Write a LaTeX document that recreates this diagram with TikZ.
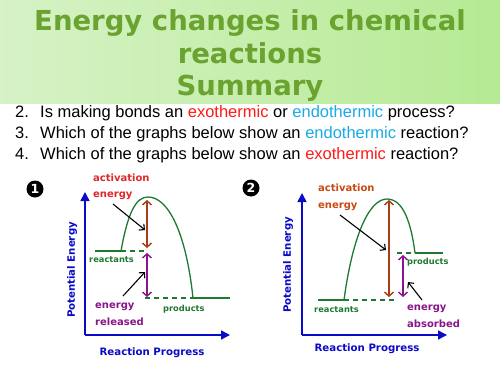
\documentclass[tikz,border=0pt]{standalone}
\usepackage{fontspec}
\setmainfont{Liberation Sans}
\newfontfamily\titlefont{DejaVu Sans}
\newfontfamily\labfont{DejaVu Sans}
\usetikzlibrary{arrows.meta}
\definecolor{titlegreen}{HTML}{6AA330}
\definecolor{bannerL}{HTML}{D6F2C6}
\definecolor{bannerR}{HTML}{B6EA94}
\definecolor{exored}{HTML}{FF1A1A}
\definecolor{endoblue}{HTML}{1AAAE8}
\definecolor{axisblue}{HTML}{0A0AC8}
\definecolor{curvegreen}{HTML}{1E7A32}
\definecolor{actred}{HTML}{E02828}
\definecolor{actbrown}{HTML}{C84A14}
\definecolor{arrbrown}{HTML}{A83C14}
\definecolor{relpurple}{HTML}{8A148A}
\tikzset{
  titletext/.style={font=\titlefont\bfseries\fontsize{27.5}{30}\selectfont, text=titlegreen, inner sep=0pt, anchor=base},
  qtext/.style={font=\fontsize{16.5}{19}\selectfont, inner sep=0pt, anchor=base west},
  lab/.style={font=\labfont\bfseries\fontsize{10}{12}\selectfont, inner sep=0pt, anchor=base west},
  smalllab/.style={font=\labfont\bfseries\fontsize{8.3}{10}\selectfont, inner sep=0pt, text=curvegreen, anchor=base west},
  axislab/.style={font=\labfont\bfseries\fontsize{10.2}{12}\selectfont, inner sep=0pt, text=axisblue},
  axis/.style={draw=axisblue, line width=1.5pt, -{Triangle[length=9pt,width=9pt]}},
  curve/.style={draw=curvegreen, line width=1.3pt},
  dashline/.style={draw=curvegreen, line width=1.3pt, dash pattern=on 5pt off 4pt},
  dbl/.style={line width=1.4pt, {Straight Barb[length=4pt,width=9pt]}-{Straight Barb[length=4pt,width=9pt]}},
  pointer/.style={draw=black, line width=1.1pt, -{Straight Barb[length=4pt,width=8pt]}},
  badge/.style={circle, fill=black, text=white, inner sep=0pt, minimum size=17pt, font=\titlefont\bfseries\fontsize{12.5}{12}\selectfont}
}
\begin{document}
\begin{tikzpicture}[x=1pt,y=-1pt]
\useasboundingbox (0,0) rectangle (500,375);
\fill[white] (0,0) rectangle (500,375);
\shade[left color=bannerL, right color=bannerR] (0,0) rectangle (500,103);
% title
\node[titletext] (t1) at (250,30) {Energy changes in chemical};
\node[titletext] (t2) at (250,63) {reactions};
\node[titletext] (t3) at (250,95) {Summary};
% questions
\node[qtext] (n2) at (15,117) {2.};
\node[qtext] (q2) at (40,117) {Is making bonds an \textcolor{exored}{exothermic} or \textcolor{endoblue}{endothermic} process?};
\node[qtext] (n3) at (15,138) {3.};
\node[qtext] (q3) at (40,138) {Which of the graphs below show an \textcolor{endoblue}{endothermic} reaction?};
\node[qtext] (n4) at (15,159) {4.};
\node[qtext] (q4) at (40,159) {Which of the graphs below show an \textcolor{exored}{exothermic} reaction?};

% ===== Graph 1 =====
\node[badge] (b1) at (35,189) {1};
\coordinate (o1) at (85,335);
\coordinate (ytop1) at (85,192);
\coordinate (xend1) at (230,335);
\draw[axis] (o1) -- (ytop1);
\draw[axis] (o1) -- (xend1);
\node[axislab, rotate=90] (pe1) at (72,270) {Potential Energy};
\node[axislab, anchor=base] (rp1) at (152,355) {Reaction Progress};
\coordinate (r1a) at (95,251);
\coordinate (r1b) at (121,251);
\coordinate (r1c) at (147,251);
\coordinate (pk1) at (148,197);
\coordinate (p1a) at (145,298);
\coordinate (p1b) at (193,298);
\coordinate (p1c) at (230,298);
\draw[curve] (r1a) -- (r1b);
\draw[dashline] (r1b) -- (r1c);
\draw[curve] (r1b) .. controls (128,212) and (136,197) .. (pk1) .. controls (168,197) and (186,232) .. (p1b);
\draw[dashline] (p1a) -- (p1b);
\draw[curve] (p1b) -- (p1c);
\node[smalllab] (re1) at (89,262) {reactants};
\node[smalllab] (pr1) at (163,311) {products};
\coordinate (a1t) at (147,200);
\coordinate (a1b) at (147,248);
\coordinate (e1t) at (147,253);
\coordinate (e1b) at (147,297);
\draw[dbl, draw=arrbrown] (a1t) -- (a1b);
\draw[dbl, draw=relpurple] (e1t) -- (e1b);
\node[lab, text=actred] (act1) at (93,181) {activation};
\node[lab, text=actred] (en1) at (93,197) {energy};
\node[lab, text=relpurple] (er1) at (95,308) {energy};
\node[lab, text=relpurple] (rel1) at (95,325) {released};
\coordinate (ps1) at (113,204);
\coordinate (pe1a) at (145,230);
\coordinate (ps2) at (123,296);
\coordinate (pe2a) at (145,272);
\draw[pointer] (ps1) -- (pe1a);
\draw[pointer] (ps2) -- (pe2a);

% ===== Graph 2 =====
\node[badge] (b2) at (251,188) {2};
\coordinate (o2) at (302,335);
\coordinate (ytop2) at (302,193);
\coordinate (xend2) at (447,335);
\draw[axis] (o2) -- (ytop2);
\draw[axis] (o2) -- (xend2);
\node[axislab, rotate=90] (pe2) at (288,265) {Potential Energy};
\node[axislab, anchor=base] (rp2) at (367,351) {Reaction Progress};
\coordinate (r2a) at (318,300);
\coordinate (r2b) at (344,300);
\coordinate (r2c) at (397,300);
\coordinate (pk2) at (387,199);
\coordinate (p2a) at (397,253);
\coordinate (p2b) at (415,253);
\coordinate (p2c) at (443,253);
\draw[curve] (r2a) -- (r2b);
\draw[dashline] (r2b) -- (r2c);
\draw[curve] (r2b) .. controls (352,240) and (368,199) .. (pk2) .. controls (403,199) and (411,222) .. (p2b);
\draw[dashline] (p2a) -- (p2b);
\draw[curve] (p2b) -- (p2c);
\node[smalllab] (re2) at (314,312) {reactants};
\node[smalllab] (pr2) at (407,264) {products};
\coordinate (a2t) at (389,200);
\coordinate (a2b) at (389,297);
\coordinate (e2t) at (403,255);
\coordinate (e2b) at (403,297);
\draw[dbl, draw=arrbrown] (a2t) -- (a2b);
\draw[dbl, draw=relpurple] (e2t) -- (e2b);
\node[lab, text=actbrown] (act2) at (318,191) {activation};
\node[lab, text=actbrown] (en2) at (318,208) {energy};
\node[lab, text=relpurple] (ea2) at (407,310) {energy};
\node[lab, text=relpurple] (ab2) at (407,327) {absorbed};
\coordinate (ps3) at (340,215);
\coordinate (pe3) at (386,250);
\coordinate (ps4) at (422,300);
\coordinate (pe4) at (408,282);
\draw[pointer] (ps3) -- (pe3);
\draw[pointer] (ps4) -- (pe4);
\end{tikzpicture}
\end{document}
